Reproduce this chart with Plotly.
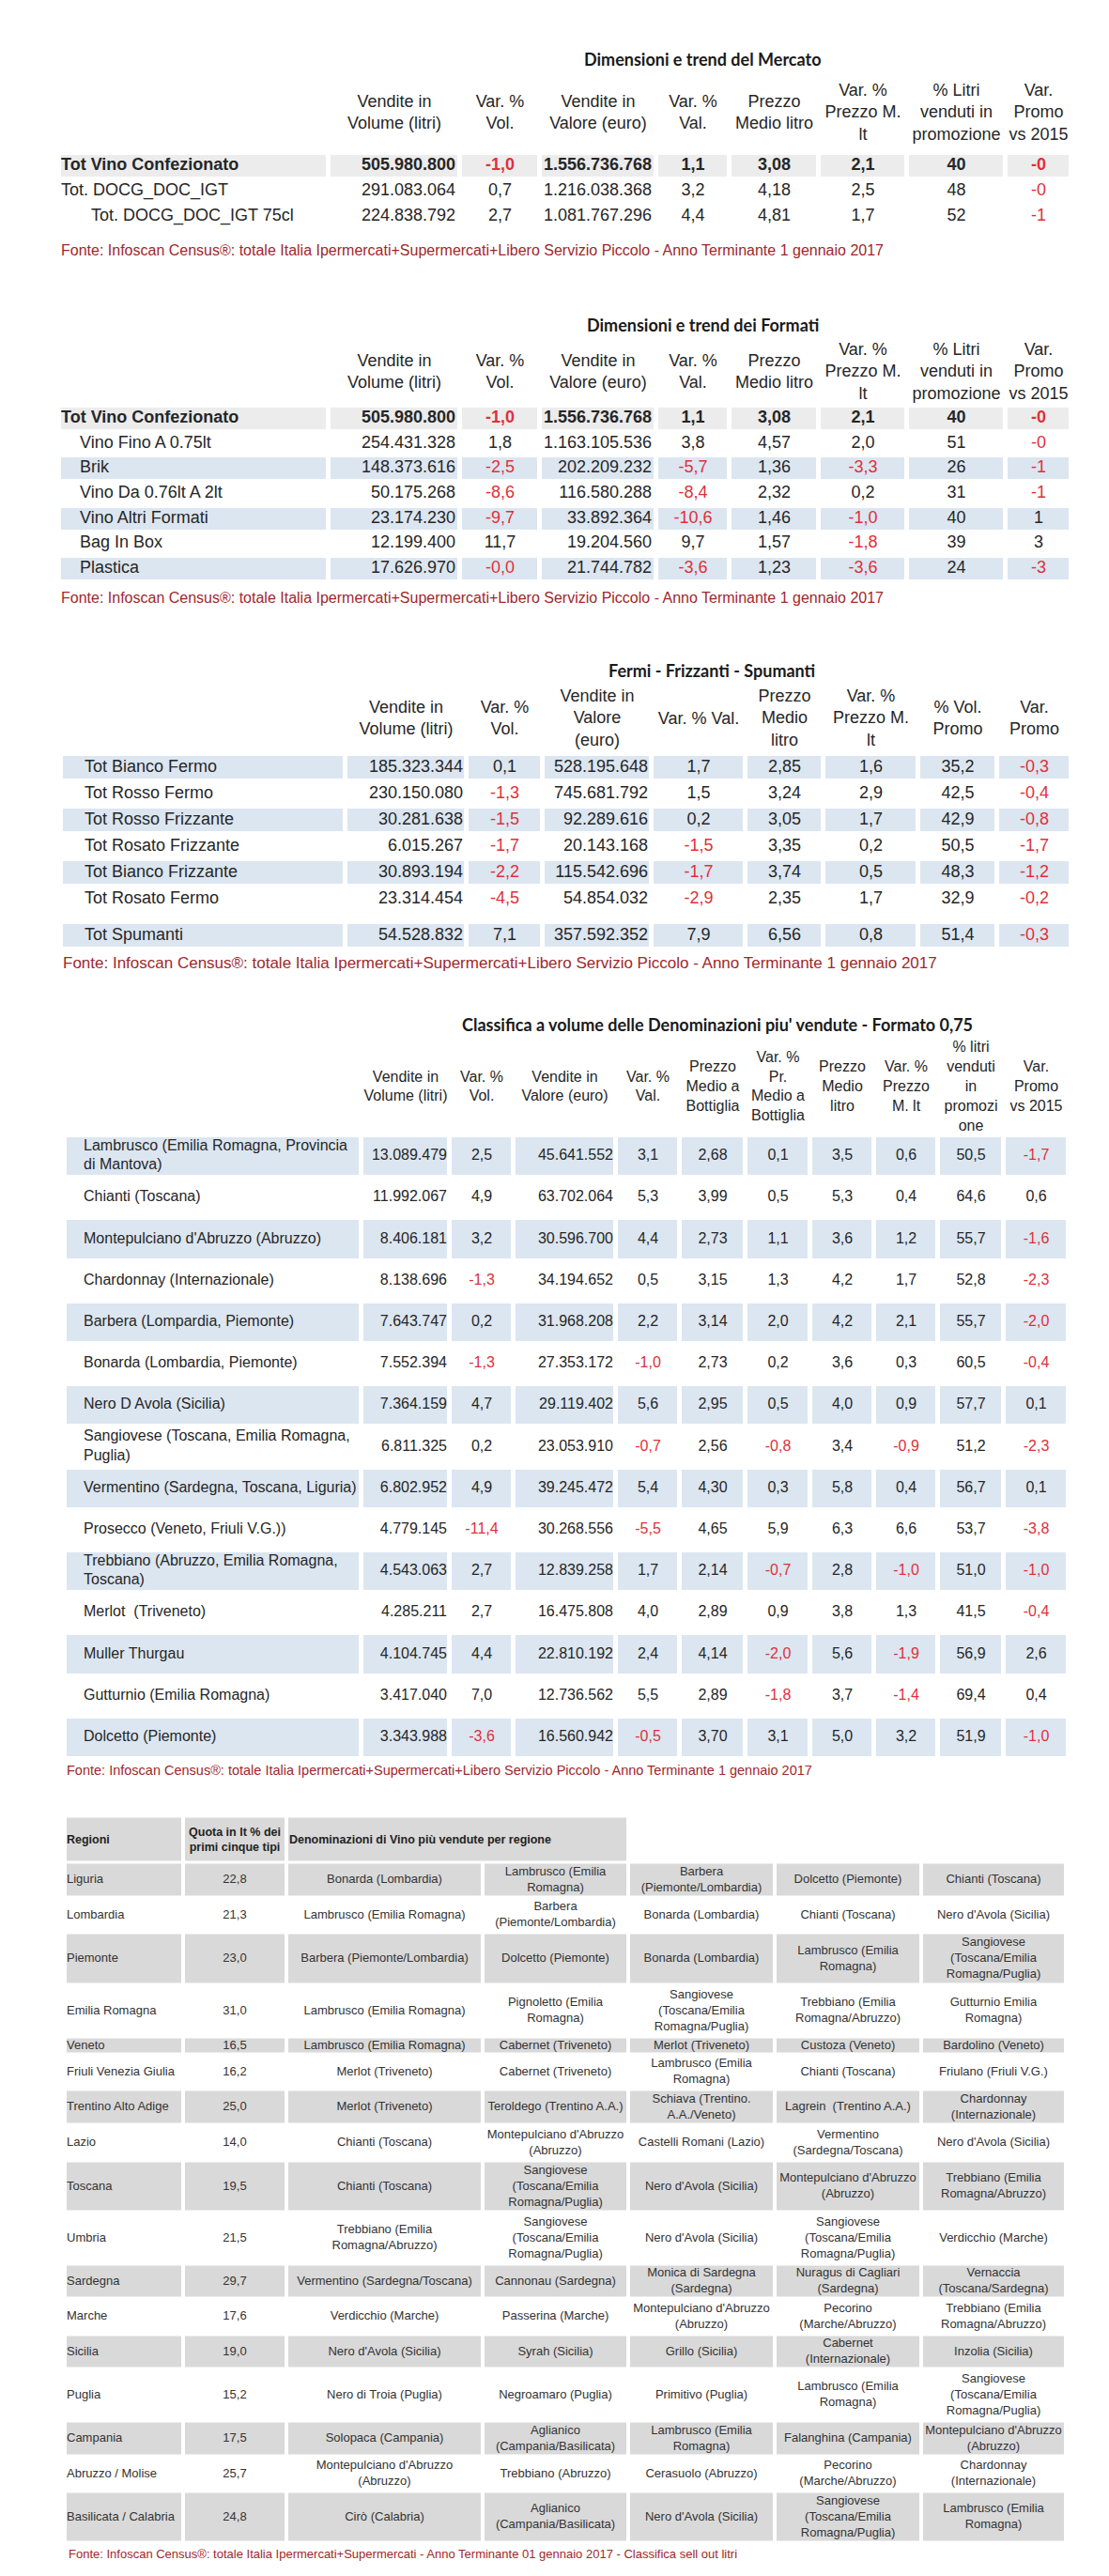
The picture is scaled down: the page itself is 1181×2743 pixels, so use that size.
import plotly.graph_objects as go

# ------------------------------------------------------------------
# Dati: Dimensioni e trend del Mercato
# ------------------------------------------------------------------
mercato_righe = ["Tot Vino Confezionato", "Tot. DOCG_DOC_IGT", "Tot. DOCG_DOC_IGT 75cl"]
mercato_vol = [505980800, 291083064, 224838792]
mercato_var_vol = [-1.0, 0.7, 2.7]
mercato_val = [1556736768, 1216038368, 1081767296]
mercato_var_val = [1.1, 3.2, 4.4]
mercato_prezzo = [3.08, 4.18, 4.81]
mercato_var_prezzo = [2.1, 2.5, 1.7]
mercato_promo = [40, 48, 52]
mercato_var_promo = [-0.0, -0.0, -1.0]

# Dimensioni e trend dei Formati
formati_righe = ["Tot Vino Confezionato", "Vino Fino A 0.75lt", "Brik", "Vino Da 0.76lt A 2lt",
                 "Vino Altri Formati", "Bag In Box", "Plastica"]
formati_vol = [505980800, 254431328, 148373616, 50175268, 23174230, 12199400, 17626970]
formati_var_vol = [-1.0, 1.8, -2.5, -8.6, -9.7, 11.7, -0.0]
formati_val = [1556736768, 1163105536, 202209232, 116580288, 33892364, 19204560, 21744782]
formati_var_val = [1.1, 3.8, -5.7, -8.4, -10.6, 9.7, -3.6]
formati_prezzo = [3.08, 4.57, 1.36, 2.32, 1.46, 1.57, 1.23]
formati_var_prezzo = [2.1, 2.0, -3.3, 0.2, -1.0, -1.8, -3.6]
formati_promo = [40, 51, 26, 31, 40, 39, 24]
formati_var_promo = [-0.0, -0.0, -1.0, -1.0, 1.0, 3.0, -3.0]

# Fermi - Frizzanti - Spumanti
fermi_righe = ["Tot Bianco Fermo", "Tot Rosso Fermo", "Tot Rosso Frizzante", "Tot Rosato Frizzante",
               "Tot Bianco Frizzante", "Tot Rosato Fermo", "Tot Spumanti"]
fermi_vol = [185323344, 230150080, 30281638, 6015267, 30893194, 23314454, 54528832]
fermi_var_vol = [0.1, -1.3, -1.5, -1.7, -2.2, -4.5, 7.1]
fermi_val = [528195648, 745681792, 92289616, 20143168, 115542696, 54854032, 357592352]
fermi_var_val = [1.7, 1.5, 0.2, -1.5, -1.7, -2.9, 7.9]
fermi_prezzo = [2.85, 3.24, 3.05, 3.35, 3.74, 2.35, 6.56]
fermi_var_prezzo = [1.6, 2.9, 1.7, 0.2, 0.5, 1.7, 0.8]
fermi_vol_promo = [35.2, 42.5, 42.9, 50.5, 48.3, 32.9, 51.4]
fermi_var_promo = [-0.3, -0.4, -0.8, -1.7, -1.2, -0.2, -0.3]

# Classifica a volume delle Denominazioni - Formato 0,75
denom_righe = ["Lambrusco (Emilia Romagna, Provincia<br>di Mantova)", "Chianti (Toscana)",
               "Montepulciano d'Abruzzo (Abruzzo)", "Chardonnay (Internazionale)",
               "Barbera (Lompardia, Piemonte)", "Bonarda (Lombardia, Piemonte)", "Nero D Avola (Sicilia)",
               "Sangiovese (Toscana, Emilia Romagna,<br>Puglia)", "Vermentino (Sardegna, Toscana, Liguria)",
               "Prosecco (Veneto, Friuli V.G.))", "Trebbiano (Abruzzo, Emilia Romagna,<br>Toscana)",
               "Merlot  (Triveneto)", "Muller Thurgau", "Gutturnio (Emilia Romagna)", "Dolcetto (Piemonte)"]
denom_vol = [13089479, 11992067, 8406181, 8138696, 7643747, 7552394, 7364159, 6811325, 6802952,
             4779145, 4543063, 4285211, 4104745, 3417040, 3343988]
denom_var_vol = [2.5, 4.9, 3.2, -1.3, 0.2, -1.3, 4.7, 0.2, 4.9, -11.4, 2.7, 2.7, 4.4, 7.0, -3.6]
denom_val = [45641552, 63702064, 30596700, 34194652, 31968208, 27353172, 29119402, 23053910, 39245472,
             30268556, 12839258, 16475808, 22810192, 12736562, 16560942]
denom_var_val = [3.1, 5.3, 4.4, 0.5, 2.2, -1.0, 5.6, -0.7, 5.4, -5.5, 1.7, 4.0, 2.4, 5.5, -0.5]
denom_prezzo_bott = [2.68, 3.99, 2.73, 3.15, 3.14, 2.73, 2.95, 2.56, 4.30, 4.65, 2.14, 2.89, 4.14, 2.89, 3.70]
denom_var_bott = [0.1, 0.5, 1.1, 1.3, 2.0, 0.2, 0.5, -0.8, 0.3, 5.9, -0.7, 0.9, -2.0, -1.8, 3.1]
denom_prezzo_lt = [3.5, 5.3, 3.6, 4.2, 4.2, 3.6, 4.0, 3.4, 5.8, 6.3, 2.8, 3.8, 5.6, 3.7, 5.0]
denom_var_lt = [0.6, 0.4, 1.2, 1.7, 2.1, 0.3, 0.9, -0.9, 0.4, 6.6, -1.0, 1.3, -1.9, -1.4, 3.2]
denom_promo = [50.5, 64.6, 55.7, 52.8, 55.7, 60.5, 57.7, 51.2, 56.7, 53.7, 51.0, 41.5, 56.9, 69.4, 51.9]
denom_var_promo = [-1.7, 0.6, -1.6, -2.3, -2.0, -0.4, 0.1, -2.3, 0.1, -3.8, -1.0, -0.4, 2.6, 0.4, -1.0]

# Denominazioni più vendute per regione
regioni = ["Liguria", "Lombardia", "Piemonte", "Emilia Romagna", "Veneto", "Friuli Venezia Giulia",
           "Trentino Alto Adige", "Lazio", "Toscana", "Umbria", "Sardegna", "Marche", "Sicilia", "Puglia",
           "Campania", "Abruzzo / Molise", "Basilicata / Calabria"]
regioni_quota = [22.8, 21.3, 23.0, 31.0, 16.5, 16.2, 25.0, 14.0, 19.5, 21.5, 29.7, 17.6, 19.0, 15.2,
                 17.5, 25.7, 24.8]
SANGIO = "Sangiovese<br>(Toscana/Emilia<br>Romagna/Puglia)"
MONTEP = "Montepulciano d'Abruzzo<br>(Abruzzo)"
regioni_den1 = ["Bonarda (Lombardia)", "Lambrusco (Emilia Romagna)", "Barbera (Piemonte/Lombardia)",
                "Lambrusco (Emilia Romagna)", "Lambrusco (Emilia Romagna)", "Merlot (Triveneto)",
                "Merlot (Triveneto)", "Chianti (Toscana)", "Chianti (Toscana)",
                "Trebbiano (Emilia<br>Romagna/Abruzzo)", "Vermentino (Sardegna/Toscana)", "Verdicchio (Marche)",
                "Nero d'Avola (Sicilia)", "Nero di Troia (Puglia)", "Solopaca (Campania)", MONTEP,
                "Cirò (Calabria)"]
regioni_den2 = ["Lambrusco (Emilia<br>Romagna)", "Barbera<br>(Piemonte/Lombardia)", "Dolcetto (Piemonte)",
                "Pignoletto (Emilia<br>Romagna)", "Cabernet (Triveneto)", "Cabernet (Triveneto)",
                "Teroldego (Trentino A.A.)", MONTEP, SANGIO, SANGIO, "Cannonau (Sardegna)",
                "Passerina (Marche)", "Syrah (Sicilia)", "Negroamaro (Puglia)",
                "Aglianico<br>(Campania/Basilicata)", "Trebbiano (Abruzzo)", "Aglianico<br>(Campania/Basilicata)"]
regioni_den3 = ["Barbera<br>(Piemonte/Lombardia)", "Bonarda (Lombardia)", "Bonarda (Lombardia)", SANGIO,
                "Merlot (Triveneto)", "Lambrusco (Emilia<br>Romagna)", "Schiava (Trentino.<br>A.A./Veneto)",
                "Castelli Romani (Lazio)", "Nero d'Avola (Sicilia)", "Nero d'Avola (Sicilia)",
                "Monica di Sardegna<br>(Sardegna)", MONTEP, "Grillo (Sicilia)", "Primitivo (Puglia)",
                "Lambrusco (Emilia<br>Romagna)", "Cerasuolo (Abruzzo)", "Nero d'Avola (Sicilia)"]
regioni_den4 = ["Dolcetto (Piemonte)", "Chianti (Toscana)", "Lambrusco (Emilia<br>Romagna)",
                "Trebbiano (Emilia<br>Romagna/Abruzzo)", "Custoza (Veneto)", "Chianti (Toscana)",
                "Lagrein  (Trentino A.A.)", "Vermentino<br>(Sardegna/Toscana)", MONTEP, SANGIO,
                "Nuragus di Cagliari<br>(Sardegna)", "Pecorino<br>(Marche/Abruzzo)",
                "Cabernet<br>(Internazionale)", "Lambrusco (Emilia<br>Romagna)", "Falanghina (Campania)",
                "Pecorino<br>(Marche/Abruzzo)", SANGIO]
regioni_den5 = ["Chianti (Toscana)", "Nero d'Avola (Sicilia)", SANGIO, "Gutturnio Emilia<br>Romagna)",
                "Bardolino (Veneto)", "Friulano (Friuli V.G.)", "Chardonnay<br>(Internazionale)",
                "Nero d'Avola (Sicilia)", "Trebbiano (Emilia<br>Romagna/Abruzzo)", "Verdicchio (Marche)",
                "Vernaccia<br>(Toscana/Sardegna)", "Trebbiano (Emilia<br>Romagna/Abruzzo)", "Inzolia (Sicilia)",
                SANGIO, MONTEP, "Chardonnay<br>(Internazionale)", "Lambrusco (Emilia<br>Romagna)"]

FONTE_1 = ("Fonte: Infoscan Census®: totale Italia Ipermercati+Supermercati+Libero Servizio Piccolo"
           " - Anno Terminante 1 gennaio 2017")
FONTE_2 = ("Fonte: Infoscan Census®: totale Italia Ipermercati+Supermercati - Anno Terminante 01 gennaio 2017"
           " - Classifica sell out litri")

# ------------------------------------------------------------------
# Stile
# ------------------------------------------------------------------
W, H = 1181, 2743
FONT = "Liberation Sans, Arial, sans-serif"
TITLE_FONT = "Lato, Liberation Sans, sans-serif"
TXT = "#262626"
RED = "#e0303a"
FONTE_COL = "#a0282b"
# 0 bianco, 1 azzurro, 2 grigio chiaro, 3 grigio
SCALA = [[0, "#ffffff"], [0.166, "#ffffff"], [0.166, "#dce6f1"], [0.5, "#dce6f1"],
         [0.5, "#ececec"], [0.833, "#ececec"], [0.833, "#d9d9d9"], [1, "#d9d9d9"]]


def it_int(v):
    return f"{v:,}".replace(",", ".")


def it_dec(v, nd):
    return f"{v:.{nd}f}".replace(".", ",")


def edges(x0, sizes):
    out = [x0]
    for s in sizes:
        out.append(out[-1] + s)
    return out


def draw_table(fig, x0, widths, y0, heights, fills, columns, align, size, indent,
               header=None, header_cy=None, bold_rows=(), pad=4, gap_before=None,
               xgap=5, ygap=4, color=TXT):
    xe = edges(x0, widths)
    ye, codes, cy = [y0], [], []
    for i, h in enumerate(heights):
        if gap_before and i in gap_before:
            ye.append(ye[-1] + gap_before[i])
            codes.append(0)
        cy.append(ye[-1] + h / 2)
        ye.append(ye[-1] + h)
        codes.append(fills[i])
    fig.add_trace(go.Heatmap(x=xe, y=ye, z=[[c] * len(widths) for c in codes], zmin=0, zmax=3,
                             colorscale=SCALA, showscale=False, xgap=xgap, ygap=ygap, hoverinfo="skip"))

    xs, ys, txt, pos, col = [], [], [], [], []
    for j, column in enumerate(columns):
        for i, s in enumerate(column):
            if align[j] == "left":
                x, p = xe[j] + indent[i], "middle right"
            elif align[j] == "right":
                x, p = xe[j + 1] - pad, "middle left"
            else:
                x, p = (xe[j] + xe[j + 1]) / 2, "middle center"
            col.append(RED if s.startswith("-") else color)
            if i in bold_rows:
                s = "<b>" + s + "</b>"
            xs.append(x)
            ys.append(cy[i])
            txt.append(s)
            pos.append(p)
    if header:
        for j, s in enumerate(header):
            if s:
                xs.append((xe[j] + xe[j + 1]) / 2)
                ys.append(header_cy)
                txt.append(s)
                pos.append("middle center")
                col.append(color)
    fig.add_trace(go.Scatter(x=xs, y=ys, text=txt, mode="text", textposition=pos,
                             textfont=dict(family=FONT, size=size, color=col),
                             cliponaxis=False, hoverinfo="skip", showlegend=False))


def title(fig, text, x, y, size=18):
    fig.add_annotation(x=x, y=y, xref="x", yref="y", text="<b>" + text + "</b>", showarrow=False,
                       xanchor="center", yanchor="middle", font=dict(family=TITLE_FONT, size=size, color="#1a1a1a"))


def fonte(fig, text, x, y, size):
    fig.add_annotation(x=x, y=y, xref="x", yref="y", text=text, showarrow=False,
                       xanchor="left", yanchor="middle", font=dict(family=FONT, size=size, color=FONTE_COL))


fig = go.Figure()

HDR_A = ["", "Vendite in<br>Volume (litri)", "Var. %<br>Vol.", "Vendite in<br>Valore (euro)", "Var. %<br>Val.",
         "Prezzo<br>Medio litro", "Var. %<br>Prezzo M.<br>lt", "% Litri<br>venduti in<br>promozione",
         "Var.<br>Promo<br>vs 2015"]
AL_A = ["left", "right", "center", "right", "center", "center", "center", "center", "center"]
W_A = [287, 140, 85, 124, 78, 95, 94, 105, 70]

# 1. Mercato
title(fig, "Dimensioni e trend del Mercato", 740, 55)
cols = [mercato_righe, [it_int(v) for v in mercato_vol], [it_dec(v, 1) for v in mercato_var_vol],
        [it_int(v) for v in mercato_val], [it_dec(v, 1) for v in mercato_var_val],
        [it_dec(v, 2) for v in mercato_prezzo], [it_dec(v, 1) for v in mercato_var_prezzo],
        [str(v) for v in mercato_promo], [it_dec(v, 0) for v in mercato_var_promo]]
draw_table(fig, 55, W_A, 155, [27] * 3, [2, 0, 0], cols, AL_A, 18, [2, 2, 34],
           header=HDR_A, header_cy=113, bold_rows={0}, pad=5)
fonte(fig, FONTE_1, 55, 258, 16)

# 2. Formati
title(fig, "Dimensioni e trend dei Formati", 740, 338)
cols = [formati_righe, [it_int(v) for v in formati_vol], [it_dec(v, 1) for v in formati_var_vol],
        [it_int(v) for v in formati_val], [it_dec(v, 1) for v in formati_var_val],
        [it_dec(v, 2) for v in formati_prezzo], [it_dec(v, 1) for v in formati_var_prezzo],
        [str(v) for v in formati_promo], [it_dec(v, 0) for v in formati_var_promo]]
draw_table(fig, 55, W_A, 424, [26.7] * 7, [2, 0, 1, 0, 1, 0, 1], cols, AL_A, 18, [2] + [22] * 6,
           header=HDR_A, header_cy=389, bold_rows={0}, pad=5)
fonte(fig, FONTE_1, 55, 628, 16)

# 3. Fermi - Frizzanti - Spumanti
title(fig, "Fermi - Frizzanti - Spumanti", 750, 706)
hdr = ["", "Vendite in<br>Volume (litri)", "Var. %<br>Vol.", "Vendite in<br>Valore<br>(euro)", "Var. % Val.",
       "Prezzo<br>Medio<br>litro", "Var. %<br>Prezzo M.<br>lt", "% Vol.<br>Promo", "Var.<br>Promo"]
cols = [fermi_righe, [it_int(v) for v in fermi_vol], [it_dec(v, 1) for v in fermi_var_vol],
        [it_int(v) for v in fermi_val], [it_dec(v, 1) for v in fermi_var_val],
        [it_dec(v, 2) for v in fermi_prezzo], [it_dec(v, 1) for v in fermi_var_prezzo],
        [it_dec(v, 1) for v in fermi_vol_promo], [it_dec(v, 1) for v in fermi_var_promo]]
draw_table(fig, 57, [303, 129, 81, 116, 100, 83, 101, 84, 79], 795, [28] * 7, [1, 0, 1, 0, 1, 0, 1],
           cols, AL_A, 18, [25] * 7, header=hdr, header_cy=758, pad=4, gap_before={6: 11})
fonte(fig, FONTE_1, 57, 1017, 17)

# 4. Classifica denominazioni
title(fig, "Classifica a volume delle Denominazioni piu' vendute - Formato 0,75", 756, 1083)
hdr = ["", "Vendite in<br>Volume (litri)", "Var. %<br>Vol.", "Vendite in<br>Valore (euro)", "Var. %<br>Val.",
       "Prezzo<br>Medio a<br>Bottiglia", "Var. %<br>Pr.<br>Medio a<br>Bottiglia", "Prezzo<br>Medio<br>litro",
       "Var. %<br>Prezzo<br>M. lt", "% litri<br>venduti<br>in<br>promozi<br>one", "Var.<br>Promo<br>vs 2015"]
cols = [denom_righe, [it_int(v) for v in denom_vol], [it_dec(v, 1) for v in denom_var_vol],
        [it_int(v) for v in denom_val], [it_dec(v, 1) for v in denom_var_val],
        [it_dec(v, 2) for v in denom_prezzo_bott], [it_dec(v, 1) for v in denom_var_bott],
        [it_dec(v, 1) for v in denom_prezzo_lt], [it_dec(v, 1) for v in denom_var_lt],
        [it_dec(v, 1) for v in denom_promo], [it_dec(v, 1) for v in denom_var_promo]]
n = len(denom_righe)
draw_table(fig, 61, [316, 94, 68, 109, 68, 70, 69, 68, 68, 70, 69], 1201, [44.2] * n,
           [1 - i % 2 for i in range(n)], cols, ["left", "right", "center", "right"] + ["center"] * 7,
           16, [20] * n, header=hdr, header_cy=1150, pad=3)
fonte(fig, FONTE_1, 61, 1877, 14.5)

# 5. Regioni
W_R = [126, 110, 209, 155, 156, 156, 154]
fig.add_trace(go.Heatmap(x=edges(61, [126, 110, 364]), y=[1926.5, 1975.5], z=[[3, 3, 3]], zmin=0, zmax=3,
                         colorscale=SCALA, showscale=False, xgap=4, ygap=3, hoverinfo="skip"))
fig.add_trace(go.Scatter(x=[63, 61 + 126 + 55, 300], y=[1952, 1952, 1952], mode="text",
                         text=["<b>Regioni</b>", "<b>Quota in lt % dei<br>primi cinque tipi</b>",
                               "<b>Denominazioni di Vino più vendute per regione</b>"],
                         textposition=["middle right", "middle center", "middle right"],
                         textfont=dict(family=FONT, size=12.5, color="#222222"),
                         cliponaxis=False, hoverinfo="skip", showlegend=False))
cols = [regioni, [it_dec(v, 1) for v in regioni_quota], regioni_den1, regioni_den2, regioni_den3,
        regioni_den4, regioni_den5]
n = len(regioni)
draw_table(fig, 61, W_R, 1975.5, [37, 38, 55, 56, 18, 38, 37, 39, 54, 56, 36, 39, 36, 56, 37, 38, 54],
           [3 * (1 - i % 2) for i in range(n)], cols, ["left"] + ["center"] * 6, 13, [2] * n,
           xgap=4, ygap=3, color="#333333")
fonte(fig, FONTE_2, 63, 2711, 13)

fig.update_layout(
    width=W, height=H, margin=dict(l=0, r=0, t=0, b=0),
    paper_bgcolor="white", plot_bgcolor="white", showlegend=False,
    xaxis=dict(range=[0, W], visible=False, fixedrange=True),
    yaxis=dict(range=[H, 0], visible=False, fixedrange=True),
)
fig.write_html("out.html")
